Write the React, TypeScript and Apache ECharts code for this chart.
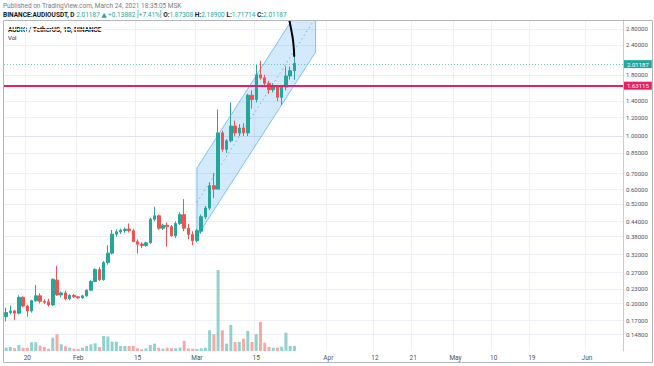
import React, { useEffect, useRef } from 'react';
import * as echarts from 'echarts';

// ---------- data ----------
const START_UTC = Date.UTC(2021, 0, 15);
const DAY_COUNT = 146; // 2021-01-15 .. 2021-06-09
const categories: string[] = [];
for (let i = 0; i < DAY_COUNT; i++) {
  categories.push(new Date(START_UTC + i * 86400000).toISOString().slice(0, 10));
}

const xTickDates = ['2021-01-20', '2021-02-01', '2021-02-15', '2021-03-01', '2021-03-15', '2021-04-01', '2021-04-12', '2021-04-21', '2021-05-01', '2021-05-10', '2021-05-19', '2021-06-01'];
const xTickLabels = ['20', 'Feb', '15', 'Mar', '15', 'Apr', '12', '21', 'May', '10', '19', 'Jun'];

const priceTicks = [2.8, 2.4, 1.8, 1.4, 1.2, 1.0, 0.85, 0.7, 0.6, 0.52, 0.44, 0.38, 0.32, 0.27, 0.23, 0.2, 0.17, 0.148];
const priceMin = 0.1265;
const priceMax = 3.05;

const opens = [
  0.176, 0.183, 0.186, 0.182, 0.212, 0.195, 0.186, 0.205, 0.215, 0.204,
  0.203, 0.197, 0.250, 0.217, 0.221, 0.209, 0.216, 0.213, 0.211, 0.215,
  0.227, 0.247, 0.277, 0.251, 0.296, 0.324, 0.389, 0.397, 0.403, 0.409,
  0.402, 0.362, 0.354, 0.349, 0.358, 0.449, 0.464, 0.412, 0.424, 0.418,
  0.383, 0.431, 0.469, 0.412, 0.388, 0.365, 0.40, 0.46, 0.50, 0.62,
  0.60, 1.03, 0.88, 0.955, 1.10, 1.03, 1.08, 1.03, 1.48, 1.42,
  1.80, 1.75, 1.66, 1.56, 1.60, 1.45, 1.60, 1.78, 1.87308,
];
const closes = [
  0.183, 0.186, 0.182, 0.212, 0.195, 0.186, 0.205, 0.215, 0.204, 0.202,
  0.197, 0.252, 0.217, 0.221, 0.209, 0.216, 0.213, 0.211, 0.215, 0.227,
  0.247, 0.277, 0.251, 0.296, 0.324, 0.389, 0.398, 0.404, 0.408, 0.402,
  0.362, 0.353, 0.349, 0.358, 0.449, 0.464, 0.412, 0.424, 0.418, 0.383,
  0.431, 0.469, 0.412, 0.388, 0.365, 0.402, 0.46, 0.50, 0.62, 0.60,
  1.03, 0.88, 0.955, 1.10, 1.03, 1.08, 1.03, 1.48, 1.42, 1.80,
  1.75, 1.66, 1.56, 1.60, 1.45, 1.60, 1.78, 1.87305, 2.01187,
];
const highs = [
  0.192, 0.196, 0.188, 0.216, 0.214, 0.197, 0.207, 0.239, 0.220, 0.208,
  0.209, 0.254, 0.287, 0.224, 0.226, 0.218, 0.219, 0.215, 0.217, 0.229,
  0.250, 0.280, 0.283, 0.300, 0.350, 0.405, 0.408, 0.410, 0.415, 0.431,
  0.410, 0.370, 0.360, 0.362, 0.455, 0.506, 0.470, 0.430, 0.435, 0.425,
  0.440, 0.480, 0.545, 0.430, 0.400, 0.410, 0.47, 0.51, 0.64, 0.70,
  1.29, 1.05, 0.97, 1.38, 1.16, 1.12, 1.13, 1.50, 1.55, 1.98,
  2.06, 1.80, 1.70, 1.66, 1.62, 1.62, 1.95, 1.95, 2.189,
];
const lows = [
  0.168, 0.180, 0.170, 0.180, 0.193, 0.176, 0.183, 0.203, 0.200, 0.199,
  0.194, 0.195, 0.215, 0.212, 0.206, 0.206, 0.211, 0.209, 0.209, 0.213,
  0.225, 0.245, 0.248, 0.249, 0.290, 0.320, 0.380, 0.390, 0.395, 0.395,
  0.360, 0.323, 0.340, 0.345, 0.355, 0.440, 0.405, 0.405, 0.345, 0.380,
  0.375, 0.425, 0.400, 0.370, 0.350, 0.360, 0.39, 0.45, 0.49, 0.55,
  0.60, 0.86, 0.85, 0.94, 1.00, 1.00, 1.00, 1.00, 1.30, 1.38,
  1.72, 1.60, 1.50, 1.52, 1.40, 1.35, 1.55, 1.72, 1.71714,
];
// volume (millions)
const volumes = [
  3.3, 4, 2.7, 6, 3.3, 3.3, 8.7, 8.7, 5.3, 4,
  2.3, 13.3, 16.7, 6.7, 4.7, 3.3, 2.3, 2, 3.3, 5,
  6.7, 7.7, 4, 15, 14.5, 9.3, 9.3, 5, 5, 5,
  5, 2.7, 1.7, 2.7, 6, 7.3, 3.3, 2.3, 3.3, 2.7,
  2.7, 3.5, 10, 2.5, 2.3, 2, 2.7, 3.3, 20.7, 16.7,
  80.7, 20.7, 7.3, 26, 9, 9, 12.3, 20, 9, 16.7,
  29, 8.3, 4, 3.3, 3.3, 4.3, 18.3, 5, 5,
];
const volumeAxisMax = 330;

const horizontalLevel = 1.63115;

// parallel channel (day index, price)
const channelX = [45, 73];
const channelLower = [0.38, 2.24];
const channelUpper = [0.735, 4.35];
const channelMid = [0.528, 3.12];

// hand-drawn brush stroke (day index, price)
const brushX = [66.84, 67.31, 67.66, 67.85, 67.95];
const brushP = [3.02, 2.74, 2.52, 2.33, 2.16];

// ---------- helpers ----------
const lg = (v: number) => Math.log10(v);
const UP = '#26a69a';
const DOWN = '#ef5350';
const LEVEL = '#e91e63';
const FONT = 'Roboto, "DejaVu Sans", sans-serif';

const last = closes.length - 1;
const chg = closes[last] - closes[last - 1];
const chgPct = (chg / closes[last - 1]) * 100;

const tickIndex = new Map<number, string>();
xTickDates.forEach((d, k) => tickIndex.set(categories.indexOf(d), xTickLabels[k]));

function makeCoord(api: any) {
  return (xf: number, p: number) => {
    const i0 = Math.floor(xf);
    const a = api.coord([i0, lg(p)]);
    const b = api.coord([i0 + 1, lg(p)]);
    const t = xf - i0;
    return [a[0] + (b[0] - a[0]) * t, a[1]];
  };
}

const candleData = opens.map((o, i) => [lg(o), lg(closes[i]), lg(lows[i]), lg(highs[i])]);
const volumeData = volumes.map((v, i) => ({
  value: v,
  itemStyle: { color: closes[i] >= opens[i] ? 'rgba(38,166,154,0.5)' : 'rgba(239,83,80,0.5)' },
}));

const priceLabel = (bg: string) => ({
  show: true,
  position: 'end',
  distance: 1,
  formatter: '{b}',
  backgroundColor: bg,
  color: '#ffffff',
  fontSize: 6,
  fontFamily: FONT,
  padding: [1, 3, 1, 3],
});

const option: any = {
  animation: false,
  backgroundColor: '#ffffff',
  grid: [{ left: 4, right: 31, top: 20, bottom: 15, containLabel: false }],
  xAxis: [
    {
      type: 'category',
      data: categories,
      gridIndex: 0,
      boundaryGap: true,
      axisLine: { show: true, lineStyle: { color: '#e0e3eb', width: 1 } },
      axisTick: { show: false },
      axisLabel: {
        interval: (i: number) => tickIndex.has(i),
        formatter: (_v: string, i: number) => tickIndex.get(i) ?? '',
        fontSize: 6.5,
        fontFamily: FONT,
        color: '#4c525e',
        margin: 3,
      },
      splitLine: {
        show: true,
        interval: (i: number) => tickIndex.has(i),
        lineStyle: { color: '#eef0f5', width: 1 },
      },
    },
  ],
  yAxis: [
    {
      type: 'value',
      position: 'right',
      gridIndex: 0,
      min: lg(priceMin),
      max: lg(priceMax),
      axisLine: { show: true, lineStyle: { color: '#c8cbd3' } },
      axisTick: { show: false, customValues: priceTicks.map(lg) },
      axisLabel: {
        customValues: priceTicks.map(lg),
        formatter: (v: number) => Math.pow(10, v).toFixed(5),
        fontSize: 6,
        fontFamily: FONT,
        color: '#4c525e',
        margin: 3,
      },
      splitLine: { show: true, lineStyle: { color: '#eef0f5', width: 1 } },
    },
    {
      type: 'value',
      gridIndex: 0,
      min: 0,
      max: volumeAxisMax,
      show: false,
      splitLine: { show: false },
    },
  ],
  series: [
    {
      type: 'bar',
      name: 'Vol',
      xAxisIndex: 0,
      yAxisIndex: 1,
      data: volumeData,
      barWidth: 3,
      silent: true,
      z: 1,
    },
    {
      type: 'custom',
      name: 'channel',
      xAxisIndex: 0,
      yAxisIndex: 0,
      clip: true,
      silent: true,
      z: 1,
      data: [[channelX[0], lg(channelLower[0])]],
      renderItem: (_params: any, api: any) => {
        const pt = makeCoord(api);
        const ll = pt(channelX[0], channelLower[0]);
        const lr = pt(channelX[1], channelLower[1]);
        const ul = pt(channelX[0], channelUpper[0]);
        const ur = pt(channelX[1], channelUpper[1]);
        const ml = pt(channelX[0], channelMid[0]);
        const mr = pt(channelX[1], channelMid[1]);
        const edge = { stroke: 'rgba(33,150,243,0.55)', lineWidth: 1 };
        return {
          type: 'group',
          children: [
            { type: 'polygon', shape: { points: [ll, lr, ur, ul] }, style: { fill: 'rgba(33,150,243,0.2)' } },
            { type: 'line', shape: { x1: ll[0], y1: ll[1], x2: lr[0], y2: lr[1] }, style: edge },
            { type: 'line', shape: { x1: ul[0], y1: ul[1], x2: ur[0], y2: ur[1] }, style: edge },
            { type: 'line', shape: { x1: ll[0], y1: ll[1], x2: ul[0], y2: ul[1] }, style: edge },
            { type: 'line', shape: { x1: lr[0], y1: lr[1], x2: ur[0], y2: ur[1] }, style: edge },
            {
              type: 'line',
              shape: { x1: ml[0], y1: ml[1], x2: mr[0], y2: mr[1] },
              style: { stroke: 'rgba(120,140,170,0.7)', lineWidth: 1, lineDash: [1.5, 3] },
            },
          ],
        };
      },
    },
    {
      type: 'candlestick',
      name: 'AUDIOUSDT',
      xAxisIndex: 0,
      yAxisIndex: 0,
      data: candleData,
      barWidth: 3,
      z: 2,
      itemStyle: {
        color: UP,
        color0: DOWN,
        borderColor: UP,
        borderColor0: DOWN,
        borderWidth: 1,
      },
      markLine: {
        silent: true,
        symbol: 'none',
        animation: false,
        data: [
          {
            name: closes[last].toFixed(5),
            yAxis: lg(closes[last]),
            lineStyle: { color: 'rgba(38,166,154,0.6)', type: [1, 2], width: 1 },
            label: priceLabel(UP),
          },
          {
            name: horizontalLevel.toFixed(5),
            yAxis: lg(horizontalLevel),
            lineStyle: { color: LEVEL, type: 'solid', width: 2 },
            label: priceLabel(LEVEL),
          },
        ],
      },
    },
    {
      type: 'custom',
      name: 'brush',
      xAxisIndex: 0,
      yAxisIndex: 0,
      clip: true,
      silent: true,
      z: 4,
      data: [[brushX[0], lg(brushP[brushP.length - 1])]],
      renderItem: (_params: any, api: any) => {
        const pt = makeCoord(api);
        const pts = brushX.map((x, k) => pt(x, brushP[k]));
        return {
          type: 'polyline',
          shape: { points: pts, smooth: 0.4 },
          style: { stroke: '#000000', lineWidth: 2, fill: 'none', lineCap: 'round' },
        };
      },
    },
  ],
  graphic: [
    {
      type: 'text',
      x: 3,
      y: 6,
      style: {
        text: 'Published on TradingView.com, March 24, 2021 18:35:05 MSK',
        fontSize: 6.5,
        fontFamily: FONT,
        fill: '#787b86',
        verticalAlign: 'middle',
      },
    },
    {
      type: 'text',
      x: 3,
      y: 14.5,
      style: {
        text:
          '{b|BINANCE:AUDIOUSDT, D} {v|' + closes[last].toFixed(5) + ' ▲ +' + chg.toFixed(5) + ' [+' + chgPct.toFixed(2) + '%]} ' +
          '{b|O:}{v|' + opens[last].toFixed(5) + '} {b|H:}{v|' + highs[last].toFixed(5) + '} {b|L:}{v|' + lows[last].toFixed(5) + '} {b|C:}{v|' + closes[last].toFixed(5) + '}',
        fontSize: 6.5,
        fontFamily: FONT,
        verticalAlign: 'middle',
        rich: {
          b: { fontSize: 6.5, fontFamily: FONT, fontWeight: 'bold', fill: '#131722' },
          v: { fontSize: 6.5, fontFamily: FONT, fill: UP },
        },
      },
    },
    {
      type: 'rect',
      shape: { x: 3.5, y: 20.5, width: 649, height: 342 },
      style: { fill: 'none', stroke: '#b2b5be', lineWidth: 1 },
      silent: true,
      z: 10,
    },
    {
      type: 'text',
      x: 8,
      y: 29.5,
      style: {
        text: 'AUDIO / TetherUS, 1D, BINANCE',
        fontSize: 6.5,
        fontFamily: FONT,
        fontWeight: 'bold',
        fill: '#131722',
        verticalAlign: 'middle',
      },
    },
    {
      type: 'text',
      x: 8,
      y: 37.5,
      style: {
        text: 'Vol',
        fontSize: 6,
        fontFamily: FONT,
        fill: '#131722',
        verticalAlign: 'middle',
      },
    },
  ],
};

export default function App() {
  const ref = useRef<HTMLDivElement>(null);
  useEffect(() => {
    if (!ref.current) return;
    const chart = echarts.init(ref.current, null, { renderer: 'svg' });
    chart.setOption(option);
    return () => chart.dispose();
  }, []);
  return (
    <div
      ref={ref}
      style={{ position: 'fixed', left: 0, top: 0, width: 654, height: 366, background: '#ffffff' }}
    />
  );
}
